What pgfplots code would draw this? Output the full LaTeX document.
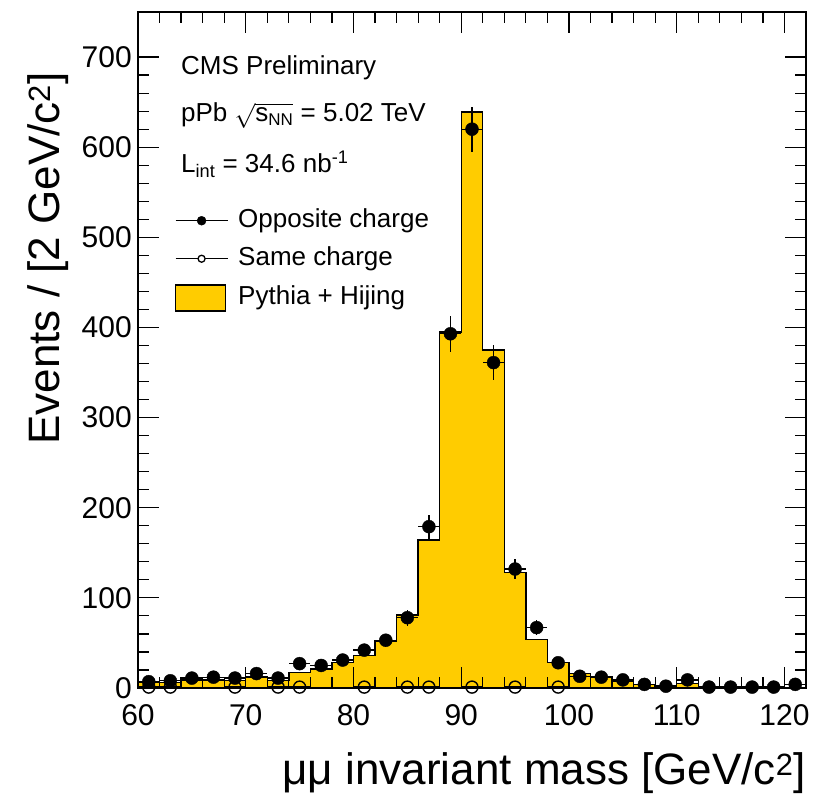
\documentclass[border=0pt]{standalone}
\usepackage{fontspec}
\setmainfont{Liberation Sans}
\usepackage{pgfplots}
\usepackage{pgfplotstable}
\pgfplotsset{compat=1.18}
\definecolor{histyellow}{RGB}{255,204,0}

% MC histogram, left bin edges (2 GeV bins)
\pgfplotstableread{
x y
60 6
62 6
64 9
66 9
68 8
70 12
72 8
74 17
76 21
78 28
80 36
82 52
84 81
86 164
88 395
90 639
92 375
94 128
96 54
98 28
100 16
102 12
104 7
106 4
108 2
110 5
112 0.5
114 0.5
116 0.5
118 0.5
120 0.5
122 0.5
}\mchist

% opposite charge data
\pgfplotstableread{
x y ey
61 7 2.6
63 8 2.8
65 11 3.3
67 12 3.5
69 11 3.3
71 16 4.0
73 11 3.3
75 27 5.2
77 25 5.0
79 31 5.6
81 42 6.5
83 53 7.3
85 78 8.8
87 179 13.4
89 393 19.8
91 620 24.9
93 361 19.0
95 132 11.5
97 67 8.2
99 28 5.3
101 13 3.6
103 12 3.5
105 9 3.0
107 4 2.0
109 2 1.4
111 9 3.0
113 1 1.0
115 1 1.0
117 1 1.0
119 1 1.0
121 4 2.0
}\oppo

% same charge data
\pgfplotstableread{
x y ey
61 1 1
63 1 1
69 1 1
73 1 1
75 1 1
81 1 1
85 1 1
87 1 1
91 1 1
95 1 1
99 1 1
}\same

\begin{document}
\begin{tikzpicture}
\useasboundingbox (-138pt,-106pt) rectangle (684pt,688pt);
\begin{axis}[
  scale only axis, width=668pt, height=676pt,
  xmin=60, xmax=122, ymin=0, ymax=750,
  clip=false, axis on top,
  xtick={60,70,...,120}, ytick={0,100,...,700},
  minor x tick num=4, minor y tick num=4,
  tick align=inside,
  major tick length=21pt, minor tick length=11pt,
  every tick/.style={black, line width=1.2pt},
  axis line style={line width=1.3pt},
  tick label style={font=\fontsize{30pt}{36pt}\selectfont, inner sep=0pt},
  /pgf/number format/assume math mode=true,
  xticklabel style={yshift=-16pt},
  yticklabel style={xshift=-6pt},
  xlabel={μμ invariant mass [GeV/c\textsuperscript{2}]},
  ylabel={Events / [2 GeV/c\textsuperscript{2}]},
  label style={font=\fontsize{44pt}{50pt}\selectfont, inner sep=0pt},
  xlabel style={at={(rel axis cs:1,0)}, anchor=base east, yshift=-97pt},
  ylabel style={at={(rel axis cs:-0.1168,0.911)}, anchor=base east},
  legend style={at={(rel axis cs:0.055,0.71)}, anchor=north west,
    draw=none, fill=none, inner sep=0pt, row sep=13pt, column sep=10pt,
    font=\fontsize{26pt}{30pt}\selectfont,
    nodes={inner sep=0pt, text height=19pt, text depth=6pt},
    cells={anchor=west}},
]
\addplot[const plot, fill=histyellow, draw=black, line width=1.4pt, forget plot]
  table[x=x, y=y] {\mchist} \closedcycle;

\addplot[only marks, black, mark=*, mark size=6.5pt,
  legend image code/.code={
    \draw[black, line width=1.3pt] (0pt,0pt) -- (52pt,0pt);
    \fill[black] (26pt,0pt) circle (4.5pt);},
  error bars/.cd, y dir=both, y explicit, x dir=both, x fixed=1,
  error mark=none, error bar style={line width=1.3pt}]
  table[x=x, y=y, y error=ey] {\oppo};
\addlegendentry{Opposite charge}

\addplot[only marks, black, mark=o, mark size=6pt, mark options={line width=1.4pt},
  legend image code/.code={
    \draw[black, line width=1.3pt] (0pt,0pt) -- (52pt,0pt);
    \filldraw[fill=white, draw=black, line width=1.3pt] (26pt,0pt) circle (3.5pt);},
  error bars/.cd, y dir=both, y explicit, x dir=both, x fixed=1,
  error mark=none, error bar style={line width=1.3pt}]
  table[x=x, y=y, y error=ey] {\same};
\addlegendentry{Same charge}

\addlegendimage{legend image code/.code={
  \filldraw[fill=histyellow, draw=black, line width=1.3pt] (0pt,-13pt) rectangle (50pt,13pt);}}
\addlegendentry{Pythia + Hijing}
\end{axis}

\begin{scope}[every node/.style={anchor=base west, inner sep=0pt, font=\fontsize{26pt}{30pt}\selectfont}]
\node at (43pt,613pt) {CMS Preliminary};
\node at (43pt,566pt) {pPb $\sqrt{\mbox{s}_{\mbox{\fontsize{17pt}{17pt}\selectfont NN}}}$ = 5.02 TeV};
\node at (43pt,515pt) {L\textsubscript{int} = 34.6 nb\textsuperscript{-1}};
\end{scope}
\end{tikzpicture}
\end{document}
